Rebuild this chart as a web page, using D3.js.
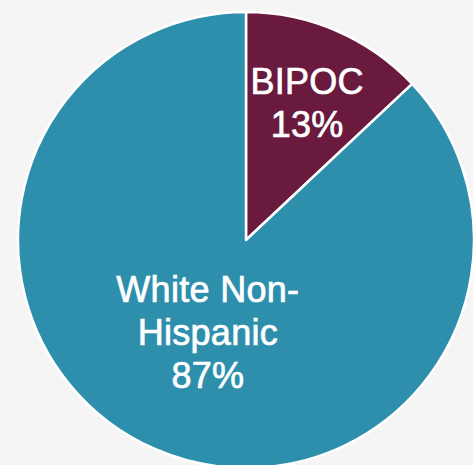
<!DOCTYPE html>
<html>
<head>
<meta charset="utf-8">
<script src="https://cdn.jsdelivr.net/npm/d3@7"></script>
<style>
  html, body { margin: 0; padding: 0; background: #f5f5f5; }
  svg { display: block; }
</style>
</head>
<body>
<script>
const categories = ["BIPOC", "White Non-Hispanic"];
const values = [13, 87];
const labelLines = [["BIPOC", "13%"], ["White Non-", "Hispanic", "87%"]];
const colors = ["#691a3d", "#2e8fad"];

const W = 473, H = 465;
const cx = 246, cy = 240, R = 228;
const labelRadii = [154, 96];
const lineHeight = 43;

const svg = d3.select("body").append("svg").attr("width", W).attr("height", H);
svg.append("rect").attr("width", W).attr("height", H).attr("fill", "#f5f5f5");

const data = categories.map((c, i) => ({ name: c, value: values[i], lines: labelLines[i], color: colors[i] }));
const pie = d3.pie().value(d => d.value).sort(null);
const arcs = pie(data);
const arc = d3.arc().innerRadius(0).outerRadius(R);

const g = svg.append("g").attr("transform", `translate(${cx},${cy})`);
g.selectAll("path").data(arcs).join("path")
  .attr("d", arc)
  .attr("fill", d => d.data.color)
  .attr("stroke", "#ffffff")
  .attr("stroke-width", 2.5)
  .attr("stroke-linejoin", "round");

arcs.forEach((a, i) => {
  const la = d3.arc().innerRadius(labelRadii[i]).outerRadius(labelRadii[i]);
  const [x, y] = la.centroid(a);
  const n = a.data.lines.length;
  const t = g.append("text")
    .attr("text-anchor", "middle")
    .attr("fill", "#ffffff")
    .attr("stroke", "#ffffff")
    .attr("stroke-width", 0.7)
    .attr("font-family", "'Liberation Sans', Arial, sans-serif")
    .attr("font-size", 36)
    .attr("letter-spacing", 0.3);
  a.data.lines.forEach((line, k) => {
    t.append("tspan")
      .attr("x", x)
      .attr("y", y + (k - (n - 1) / 2) * lineHeight + 17)
      .text(line);
  });
});
</script>
</body>
</html>
